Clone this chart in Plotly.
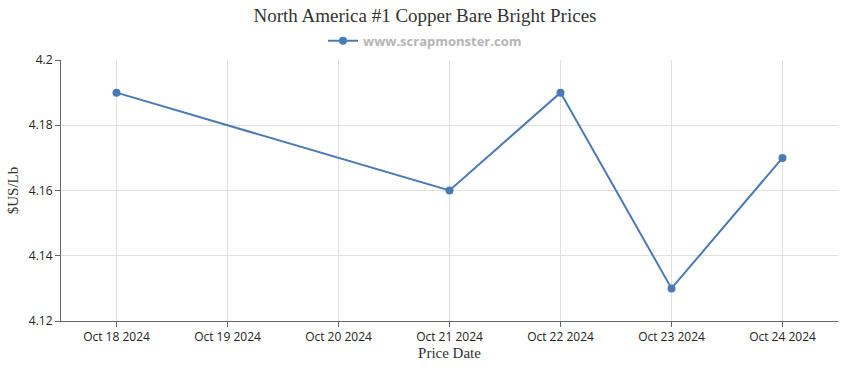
import plotly.graph_objects as go

dates = ["2024-10-18", "2024-10-21", "2024-10-22", "2024-10-23", "2024-10-24"]
prices = [4.19, 4.16, 4.19, 4.13, 4.17]
y_ticks = [4.12, 4.14, 4.16, 4.18, 4.2]
y_tick_labels = ["4.12", "4.14", "4.16", "4.18", "4.2"]
series_name = "<b>www.scrapmonster.com</b>"
title_text = "North America #1 Copper Bare Bright Prices"

fig = go.Figure()
fig.add_trace(go.Scatter(
    x=dates, y=prices, mode="lines+markers", name=series_name,
    line=dict(color="#4a7ab5", width=2),
    marker=dict(color="#4a7ab5", size=8),
))

tick_font = dict(family="Open Sans, sans-serif", size=12, color="#222222")

fig.update_layout(
    width=850, height=370,
    margin=dict(l=61, r=12, t=60, b=49, autoexpand=False),
    paper_bgcolor="white", plot_bgcolor="white",
    title=dict(text=title_text, x=0.5, xref="container", xanchor="center",
               y=0.977, yref="container", yanchor="top", automargin=False,
               font=dict(family="Liberation Serif, serif", size=19, color="#333333")),
    showlegend=True,
    legend=dict(orientation="h", x=0.5, xref="container", xanchor="center",
                y=0.89, yref="container", yanchor="middle",
                font=dict(family="Open Sans, sans-serif", size=13, color="#b5b5b5"),
                itemwidth=30),
    xaxis=dict(
        type="date", range=["2024-10-17 12:00", "2024-10-24 12:00"],
        dtick=86400000, tick0="2024-10-18", tickformat="%b %d %Y",
        showgrid=True, gridcolor="#e0e0e0", gridwidth=1,
        showline=True, linecolor="#666666", linewidth=1,
        ticks="outside", ticklen=5, tickcolor="#666666",
        tickfont=tick_font, automargin=False,
        title=dict(text="Price Date", standoff=2,
                   font=dict(family="Liberation Serif, serif", size=15, color="#333333")),
        zeroline=False,
    ),
    yaxis=dict(
        range=[4.12, 4.2], tickvals=y_ticks, ticktext=y_tick_labels,
        showgrid=True, gridcolor="#e0e0e0", gridwidth=1,
        showline=True, linecolor="#666666", linewidth=1,
        ticks="outside", ticklen=5, tickcolor="#666666",
        tickfont=tick_font, automargin=False,
        title=dict(text="$US/Lb", standoff=6,
                   font=dict(family="Liberation Serif, serif", size=15, color="#333333")),
        zeroline=False,
    ),
)

fig.write_html("out.html", config={"displayModeBar": False})

with open("out.html", "r", encoding="utf-8") as f:
    html = f.read()
html = html.replace("<head>", "<head><style>html,body{margin:0;padding:0;overflow:hidden;}</style>", 1)
with open("out.html", "w", encoding="utf-8") as f:
    f.write(html)
